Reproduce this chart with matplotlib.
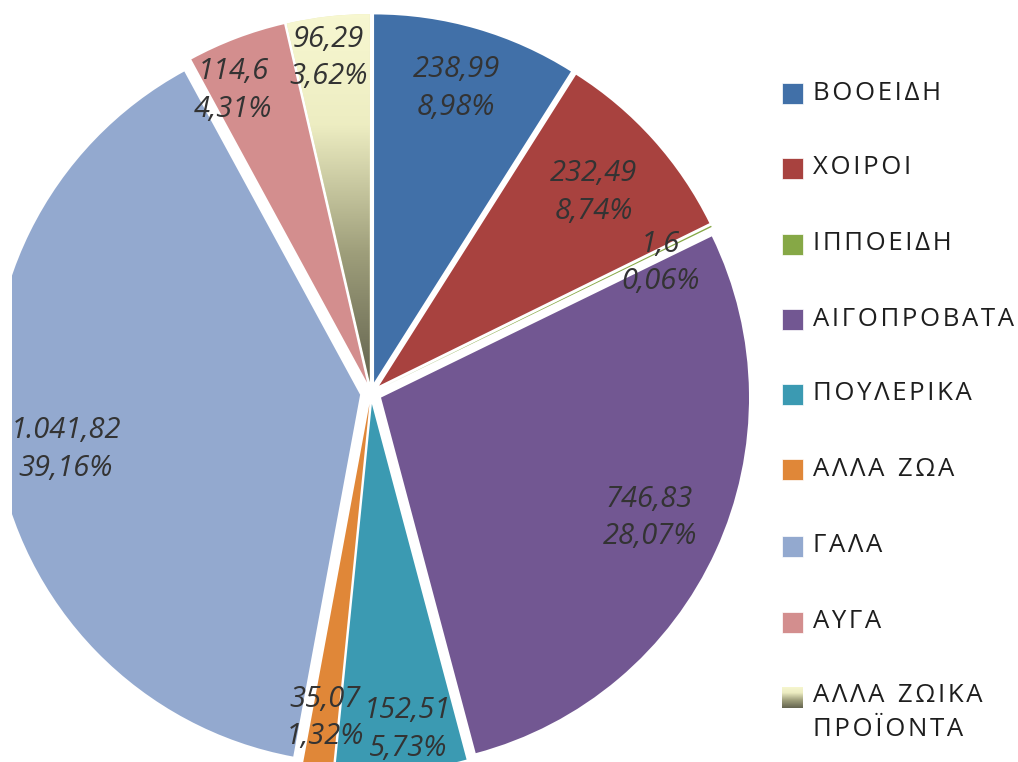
import matplotlib
matplotlib.use("Agg")
import matplotlib.pyplot as plt
import numpy as np
from matplotlib.patches import Rectangle
from matplotlib.colors import LinearSegmentedColormap

# ---- data ----
categories = ["ΒΟΟΕΙΔΗ", "ΧΟΙΡΟΙ", "ΙΠΠΟΕΙΔΗ", "ΑΙΓΟΠΡΟΒΑΤΑ", "ΠΟΥΛΕΡΙΚΑ",
              "ΑΛΛΑ ΖΩΑ", "ΓΑΛΑ", "ΑΥΓΑ", "ΑΛΛΑ ΖΩΙΚΑ\nΠΡΟΪΟΝΤΑ"]
values = [238.99, 232.49, 1.6, 746.83, 152.51, 35.07, 1041.82, 114.6, 96.29]

# ---- style / layout ----
colors = ["#4170A8", "#A8423F", "#86A846", "#725792", "#3B9AB2",
          "#E08738", "#93A9CF", "#D38E8E", "#E8E8B8"]
label_r = [0.83, 0.784, 0.833, 0.80, 0.89, 0.862, 0.813, 0.874, 0.888]
label_dth = [0.6, 0.0, -2.0, 0.4, 1.7, 0.0, 1.5, 3.8, 0.8]
W, H = 1018, 762
CX, CY, R, EXPL = 371, H - 393, 368, 11
FONT = ["Open Sans", "DejaVu Sans"]

def fmt_num(v):
    s = f"{v:,.2f}".rstrip("0").rstrip(".")
    return s.replace(",", "X").replace(".", ",").replace("X", ".")

def spaced(s):
    return "\n".join("  ".join("\u200a".join(w) for w in line.split(" "))
                     for line in s.split("\n"))

fig = plt.figure(figsize=(W / 100, H / 100), dpi=100)
ax = fig.add_axes([12 / W, 0, 1 - 12 / W, 1])

wedges, _ = ax.pie(values, colors=colors, startangle=90, counterclock=False,
                   radius=R, center=(CX, CY), explode=[EXPL] * len(values),
                   wedgeprops=dict(linewidth=0))
for w in wedges:
    w.set_clip_on(True)
    w.set_clip_path(ax.patch)

# gradient fill for last slice
grad_cmap = LinearSegmentedColormap.from_list(
    "g", [(0.0, (0.39, 0.39, 0.31)), (0.35, (0.62, 0.62, 0.48)),
          (0.7, (0.93, 0.93, 0.76)), (1.0, (0.97, 0.97, 0.82))])
w_last = wedges[-1]
bb = w_last.get_path().get_extents()
grad = np.linspace(0, 1, 256).reshape(-1, 1)
im = ax.imshow(grad, extent=(bb.x0, bb.x1, bb.y0, bb.y1), origin="lower",
               cmap=grad_cmap, aspect="auto", zorder=w_last.get_zorder() + 0.1)
im.set_clip_path(w_last)

total = sum(values)
for w, v, lr, dth in zip(wedges, values, label_r, label_dth):
    th = np.deg2rad((w.theta1 + w.theta2) / 2 + dth)
    cx, cy = w.center
    x = cx + lr * R * np.cos(th)
    y = cy + lr * R * np.sin(th)
    pct = f"{100 * v / total:.2f}".replace(".", ",") + "%"
    ax.text(x, y, f"{fmt_num(v)}\n{pct}", ha="center", va="center",
            fontsize=21, style="italic", family=FONT,
            color="#333333", linespacing=1.4, zorder=10)

ax.set_xlim(12, W)
ax.set_ylim(0, H)
ax.set_aspect("equal")
ax.axis("off")

# ---- legend ----
row_y = [93, 168, 244, 319, 394, 469, 546, 622, 697]
x0, sw = 782, 21
for i, (cat, col) in enumerate(zip(categories, colors)):
    yc = row_y[i]
    if i == len(categories) - 1:
        lax = fig.add_axes([x0 / W, 1 - (yc + sw / 2) / H, sw / W, sw / H])
        lax.imshow(grad, origin="lower", cmap=grad_cmap, aspect="auto")
        lax.axis("off")
    else:
        fig.add_artist(Rectangle((x0 / W, 1 - (yc + sw / 2) / H), sw / W, sw / H,
                                 transform=fig.transFigure, facecolor=col,
                                 edgecolor="white", linewidth=0.5))
    if "\n" in cat:
        fig.text(813 / W, 1 - (yc - 14) / H, spaced(cat), ha="left", va="top",
                 fontsize=18.5, family=FONT, color="#1e1e1e",
                 linespacing=1.45, transform=fig.transFigure)
    else:
        fig.text(813 / W, 1 - yc / H, spaced(cat), ha="left", va="center",
                 fontsize=18.5, family=FONT, color="#1e1e1e",
                 transform=fig.transFigure)

fig.savefig("out.png", dpi=100, facecolor="white")
